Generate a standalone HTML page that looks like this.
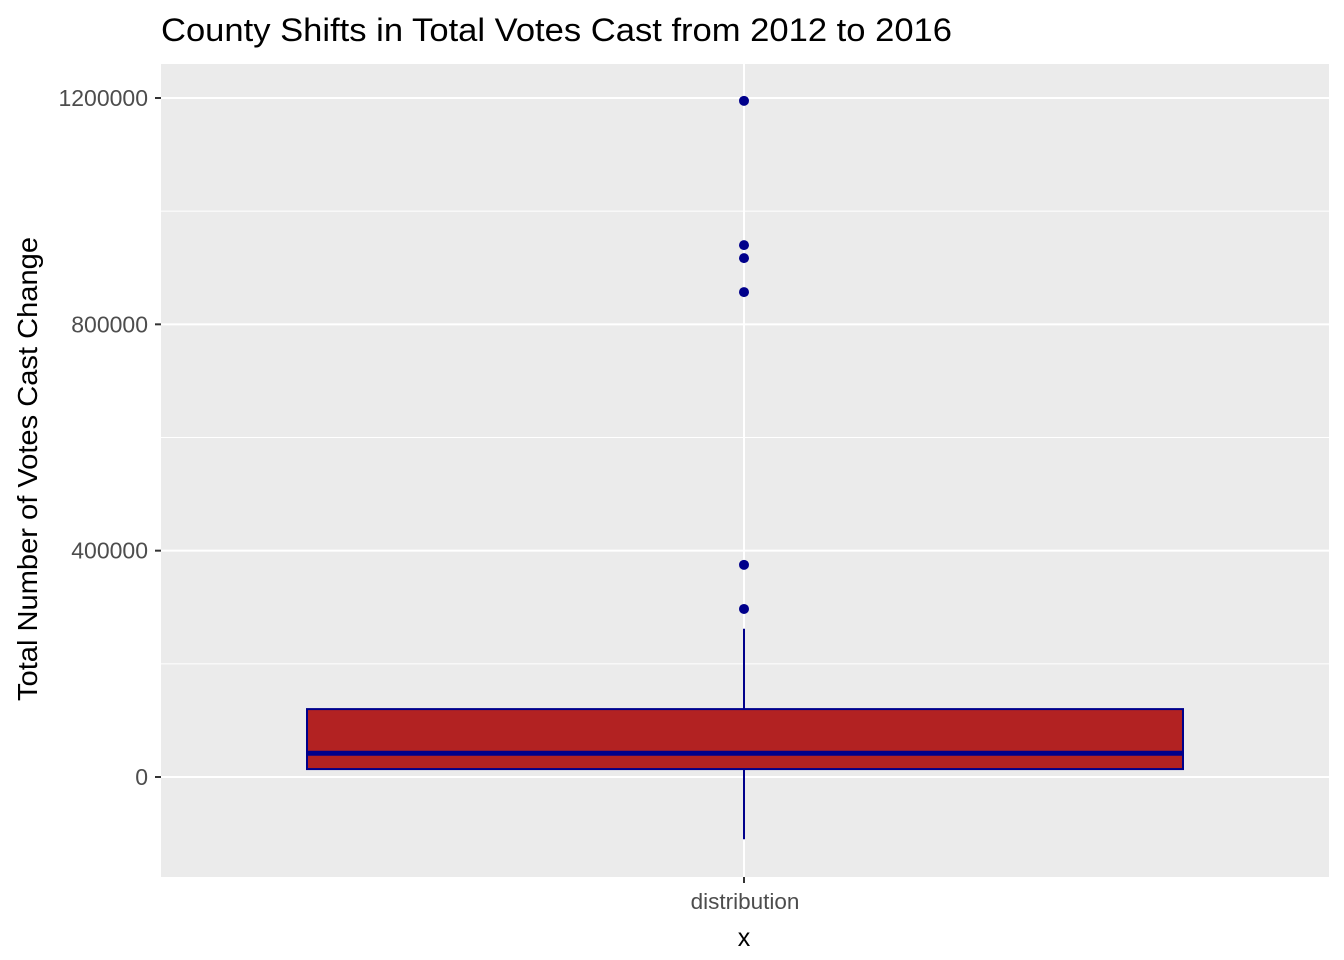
<!DOCTYPE html>
<html><head><meta charset="utf-8"><style>body{margin:0;background:#fff}svg{display:block;font-family:"Liberation Sans",Arial,sans-serif}</style></head>
<body>
<svg width="1344" height="960">
<text x="161" y="41" font-size="32" textLength="791" lengthAdjust="spacingAndGlyphs" fill="#000">County Shifts in Total Votes Cast from 2012 to 2016</text>
<rect x="161" y="64" width="1168" height="813" fill="#ebebeb"/>
<g id="grid"></g>
<g id="marks"></g>
<g id="axes"></g>
<text x="745" y="909" font-size="22.5" fill="#4d4d4d" text-anchor="middle">distribution</text>
<text x="744" y="946" font-size="25" fill="#000" text-anchor="middle">x</text>
<text transform="translate(37,469) rotate(-90)" font-size="28" fill="#000" text-anchor="middle" textLength="464" lengthAdjust="spacingAndGlyphs">Total Number of Votes Cast Change</text>
</svg>
<script>
const yTicks=[0,400000,800000,1200000];
const yMinor=[200000,600000,1000000];
const boxStats=[-110000,14000,42000,120000,262000]; // lo whisker, q1, median, q3, hi whisker
const outliers=[1195000,940000,917000,857000,375000,297000];
const NS="http://www.w3.org/2000/svg";
const y=v=>777-v*(777-98)/1200000;
const cx=744, bx0=307, bx1=1183;
function mk(t,a,p,n){const e=document.createElementNS(NS,t);for(const k in a)e.setAttribute(k,a[k]);document.getElementById(p).appendChild(e);return e;}
yMinor.forEach(v=>{const e=mk('line',{x1:161,x2:1329,y1:y(v),y2:y(v),stroke:'#fff','stroke-width':1},'grid');

});
yTicks.forEach(v=>{const e=mk('line',{x1:161,x2:1329,y1:y(v),y2:y(v),stroke:'#fff','stroke-width':2},'grid');


const t=mk('line',{x1:155,x2:161,y1:y(v),y2:y(v),stroke:'#333','stroke-width':2},'axes');


const l=mk('text',{x:148,y:y(v)+8,'font-size':23,fill:'#4d4d4d','text-anchor':'end'},'axes');l.textContent=String(v);

});
{const g=mk('line',{x1:cx,x2:cx,y1:64,y2:877,stroke:'#fff','stroke-width':2},'grid');


const t=mk('line',{x1:cx,x2:cx,y1:877,y2:883,stroke:'#333','stroke-width':2},'axes');

}
const [lo,q1,md,q3,hi]=boxStats;
const w1=mk('line',{x1:cx,x2:cx,y1:y(q3),y2:y(hi),stroke:'#00008b','stroke-width':2},'marks');


const w2=mk('line',{x1:cx,x2:cx,y1:y(q1),y2:y(lo),stroke:'#00008b','stroke-width':2},'marks');


const b=mk('rect',{x:bx0,y:y(q3),width:bx1-bx0,height:y(q1)-y(q3),fill:'#b22222',stroke:'#00008b','stroke-width':2},'marks');


const m=mk('line',{x1:bx0,x2:bx1,y1:y(md),y2:y(md),stroke:'#00008b','stroke-width':5},'marks');


outliers.forEach(v=>{const c=mk('circle',{cx:cx,cy:y(v),r:5,fill:'#00008b'},'marks');

});
</script>
</body></html>
